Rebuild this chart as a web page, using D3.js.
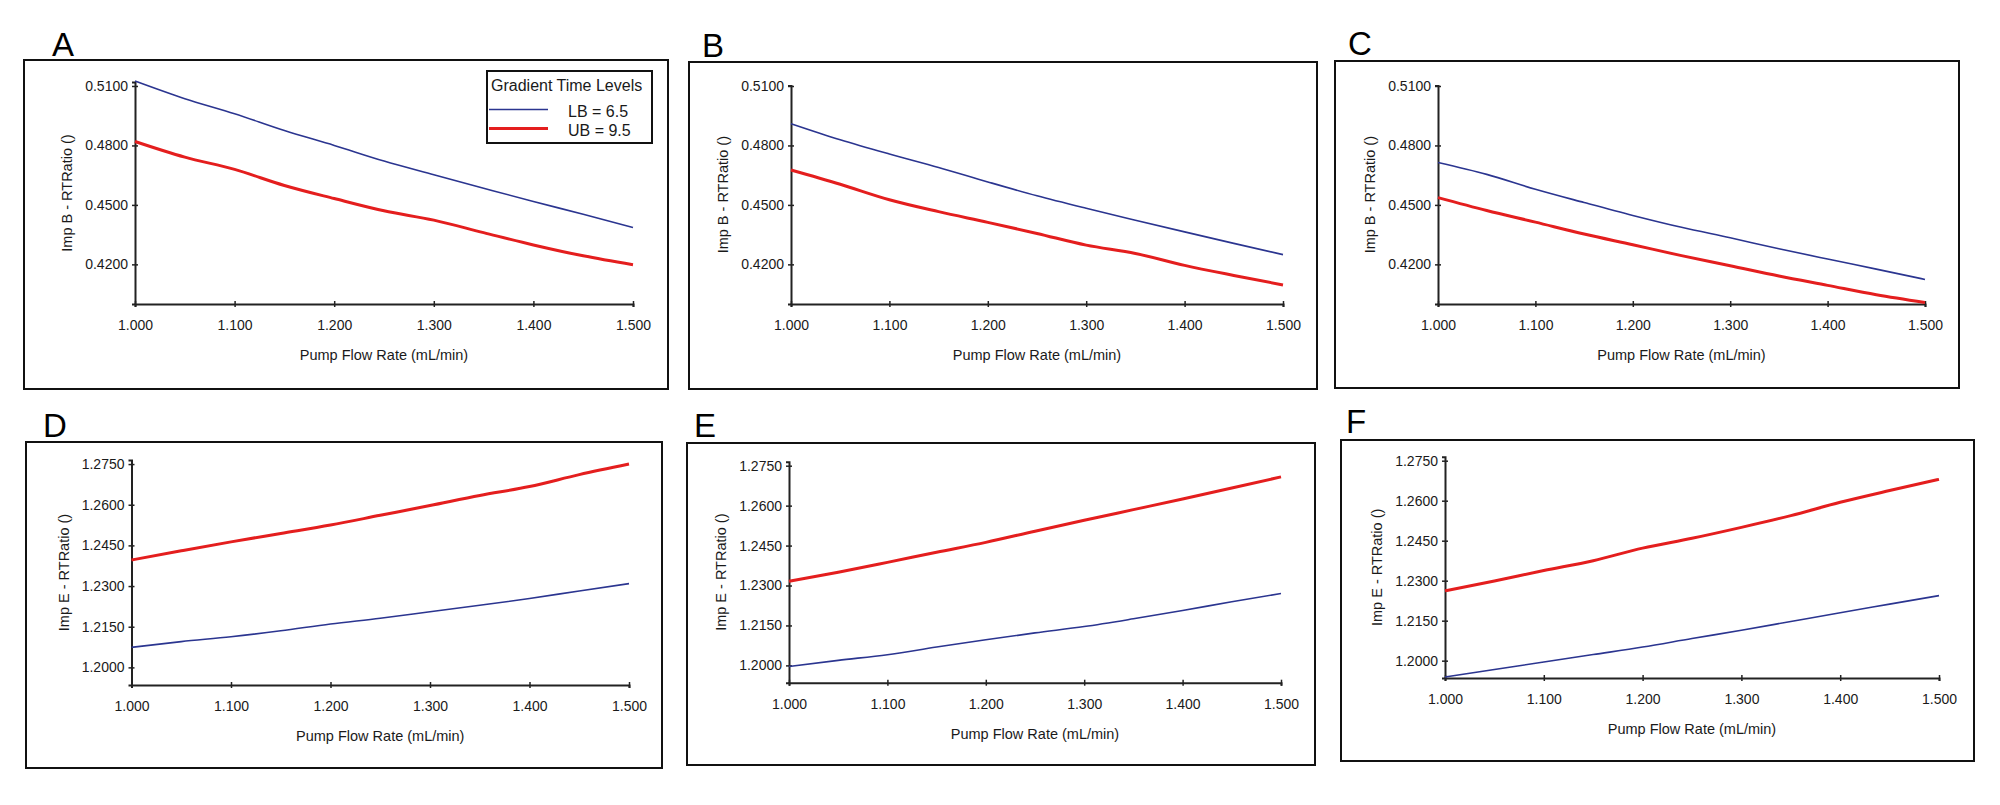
<!DOCTYPE html>
<html>

<head>
	<title>Gradient Time Levels - RT Ratio</title>
	<meta charset="utf-8" />
	<script src="https://d3js.org/d3.v7.min.js"></script>
	<style>
		body,
		html {
			margin: 0;
			background: #fff;
		}

		svg text {
			font-family: "Liberation Sans", Arial, sans-serif;
			fill: #1a1a1a;
		}
	</style>
</head>

<body>
	<svg id="chart" width="2000" height="805"></svg>
	<script>
		// x values (Pump Flow Rate, mL/min)
		var flow = [1.00, 1.05, 1.10, 1.15, 1.20, 1.25, 1.30, 1.35, 1.40, 1.45, 1.50];
		var flowTicks = [1.0, 1.1, 1.2, 1.3, 1.4, 1.5];
		var impBTicks = [0.42, 0.45, 0.48, 0.51];
		var impETicks = [1.2, 1.215, 1.23, 1.245, 1.26, 1.275];

		var panelLetters = ["A", "B", "C", "D", "E", "F"];
		var yTitles = ["Imp B - RTRatio ()", "Imp B - RTRatio ()", "Imp B - RTRatio ()",
			"Imp E - RTRatio ()", "Imp E - RTRatio ()", "Imp E - RTRatio ()"];
		var xTitle = "Pump Flow Rate (mL/min)";
		var legendTitle = "Gradient Time Levels";
		var seriesNames = ["LB = 6.5", "UB = 9.5"];

		// LB = 6.5 (blue) and UB = 9.5 (red) for each panel
		var lbA = [0.5125, 0.5036, 0.4960, 0.4875, 0.4800, 0.4721, 0.4652, 0.4584, 0.4517, 0.4453, 0.4386];
		var ubA = [0.4820, 0.4741, 0.4679, 0.4598, 0.4532, 0.4470, 0.4423, 0.4360, 0.4298, 0.4243, 0.4198];
		var lbB = [0.4910, 0.4829, 0.4757, 0.4689, 0.4616, 0.4546, 0.4483, 0.4423, 0.4364, 0.4306, 0.4249];
		var ubB = [0.4676, 0.4604, 0.4526, 0.4466, 0.4412, 0.4356, 0.4297, 0.4255, 0.4195, 0.4144, 0.4096];
		var lbC = [0.4714, 0.4654, 0.4579, 0.4512, 0.4447, 0.4387, 0.4334, 0.4279, 0.4227, 0.4176, 0.4124];
		var ubC = [0.4537, 0.4472, 0.4413, 0.4353, 0.4299, 0.4244, 0.4193, 0.4141, 0.4094, 0.4047, 0.4008];
		var lbD = [1.2074, 1.2095, 1.2113, 1.2135, 1.2160, 1.2181, 1.2205, 1.2229, 1.2254, 1.2282, 1.2309];
		var ubD = [1.2396, 1.2430, 1.2463, 1.2494, 1.2525, 1.2561, 1.2597, 1.2634, 1.2667, 1.2711, 1.2750];
		var lbE = [1.1996, 1.2019, 1.2040, 1.2069, 1.2096, 1.2122, 1.2146, 1.2175, 1.2206, 1.2239, 1.2270];
		var ubE = [1.2316, 1.2350, 1.2387, 1.2425, 1.2462, 1.2504, 1.2545, 1.2585, 1.2625, 1.2666, 1.2708];
		var lbF = [1.1939, 1.1967, 1.1995, 1.2023, 1.2051, 1.2083, 1.2114, 1.2147, 1.2180, 1.2212, 1.2244];
		var ubF = [1.2262, 1.2299, 1.2338, 1.2375, 1.2422, 1.2459, 1.2500, 1.2544, 1.2594, 1.2638, 1.2680];

		var lbSeries = [lbA, lbB, lbC, lbD, lbE, lbF];
		var ubSeries = [ubA, ubB, ubC, ubD, ubE, ubF];

		// layout of each panel: frame box, plot area, label position
		var panels = [
			{ box: [24, 60, 668, 389], x0: 135, x1: 633, yb: 304, yt: 82, dom: [0.4, 0.512], lab: [52, 56] },
			{ box: [689, 62, 1317, 389], x0: 791, x1: 1283, yb: 304, yt: 85.4, dom: [0.4, 0.5103], lab: [702, 57] },
			{ box: [1335, 61, 1959, 388], x0: 1438, x1: 1925, yb: 304, yt: 85.4, dom: [0.4, 0.5103], lab: [1348, 55] },
			{ box: [26, 442, 662, 768], x0: 131.5, x1: 629, yb: 685, yt: 460, dom: [1.1935, 1.2765], lab: [43, 437] },
			{ box: [687, 443, 1315, 765], x0: 789, x1: 1281, yb: 682.7, yt: 461.7, dom: [1.1935, 1.2765], lab: [694, 437] },
			{ box: [1341, 440, 1974, 761], x0: 1445, x1: 1939, yb: 678, yt: 456.7, dom: [1.1935, 1.2765], lab: [1346, 433] }
		];

		var blue = "#2b3590";
		var red = "#e41e1e";

		var svg = d3.select("#chart");

		panels.forEach(function (p, i) {
			var g = svg.append("g");

			// frame
			g.append("rect")
				.attr("x", p.box[0])
				.attr("y", p.box[1])
				.attr("width", p.box[2] - p.box[0])
				.attr("height", p.box[3] - p.box[1])
				.attr("fill", "none")
				.attr("stroke", "#111")
				.attr("stroke-width", 2);

			// panel letter
			svg.append("text")
				.attr("x", p.lab[0])
				.attr("y", p.lab[1])
				.style("font-size", "33px")
				.style("fill", "#000")
				.text(panelLetters[i]);

			var x = d3.scaleLinear().domain([1.0, 1.5]).range([p.x0, p.x1]);
			var y = d3.scaleLinear().domain(p.dom).range([p.yb, p.yt]);
			var yTicks = i < 3 ? impBTicks : impETicks;

			// x axis
			var xa = g.append("g")
				.attr("transform", "translate(0," + p.yb + ")")
				.call(d3.axisBottom(x).tickValues(flowTicks).tickFormat(d3.format(".3f")).tickSizeOuter(0).tickSize(3).tickPadding(13));
			xa.select(".domain").attr("stroke", "#222").attr("stroke-width", 2);
			xa.selectAll(".tick line").attr("y1", -3).attr("stroke", "#222").attr("stroke-width", 1.5);
			xa.selectAll(".tick text").style("font-size", "14px").attr("fill", "#1a1a1a");

			// y axis
			var ya = g.append("g")
				.attr("transform", "translate(" + p.x0 + ",0)")
				.call(d3.axisLeft(y).tickValues(yTicks).tickFormat(d3.format(".4f")).tickSizeOuter(0).tickSize(3).tickPadding(4));
			ya.select(".domain").attr("stroke", "#222").attr("stroke-width", 2);
			ya.selectAll(".tick line").attr("x1", 3).attr("stroke", "#222").attr("stroke-width", 1.5);
			ya.selectAll(".tick text").style("font-size", "14px").attr("fill", "#1a1a1a");

			// axis titles
			g.append("text")
				.attr("x", (p.x0 + p.x1) / 2)
				.attr("y", p.yb + 56)
				.attr("text-anchor", "middle")
				.style("font-size", "14.5px")
				.text(xTitle);

			g.append("text")
				.attr("transform", "translate(" + (p.x0 - 63) + "," + ((p.yb + p.yt) / 2) + ") rotate(-90)")
				.attr("text-anchor", "middle")
				.style("font-size", "14.5px")
				.text(yTitles[i]);

			var line = d3.line()
				.x(function (d, j) { return x(flow[j]); })
				.y(function (d) { return y(d); })
				.curve(d3.curveMonotoneX);

			g.append("path")
				.datum(lbSeries[i])
				.attr("d", line)
				.attr("fill", "none")
				.attr("stroke", blue)
				.attr("stroke-width", 1.6);

			g.append("path")
				.datum(ubSeries[i])
				.attr("d", line)
				.attr("fill", "none")
				.attr("stroke", red)
				.attr("stroke-width", 3);
		});

		// legend (panel A only)
		var lg = svg.append("g");
		lg.append("rect")
			.attr("x", 487).attr("y", 71)
			.attr("width", 165).attr("height", 72)
			.attr("fill", "#fff")
			.attr("stroke", "#111")
			.attr("stroke-width", 2);
		lg.append("text")
			.attr("x", 491).attr("y", 91)
			.style("font-size", "16px")
			.text(legendTitle);
		[blue, red].forEach(function (c, k) {
			lg.append("line")
				.attr("x1", 489).attr("x2", 548)
				.attr("y1", 109.5 + k * 19).attr("y2", 109.5 + k * 19)
				.attr("stroke", c)
				.attr("stroke-width", k === 0 ? 1.6 : 3);
			lg.append("text")
				.attr("x", 568).attr("y", 117 + k * 19)
				.style("font-size", "16px")
				.text(seriesNames[k]);
		});
	</script>
</body>

</html>
